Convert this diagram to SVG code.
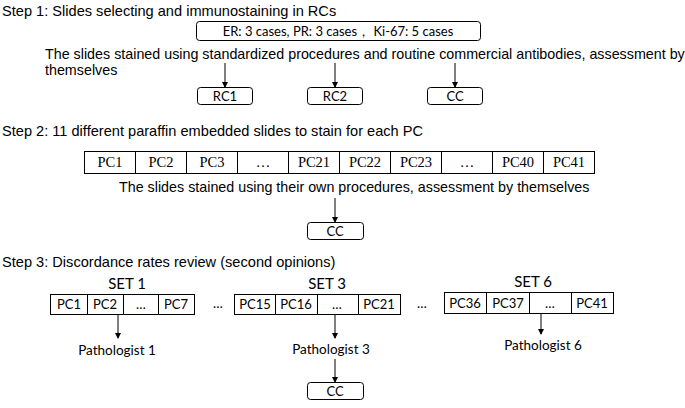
<svg xmlns="http://www.w3.org/2000/svg" width="685" height="408" viewBox="0 0 685 408">
<defs>
<marker id="ah" markerWidth="6" markerHeight="6" refX="5" refY="3" orient="auto" markerUnits="userSpaceOnUse">
<path d="M0,0 L6,3 L0,6 z" fill="#000"/>
</marker>
<style>
.step{font-family:"Liberation Sans",Arial,sans-serif;font-size:14.6px;fill:#000}
.body{font-family:"Liberation Sans",Arial,sans-serif;font-size:14.3px;fill:#000}
.cal{font-family:Lato,"Open Sans",sans-serif;font-size:13px;fill:#000}
.tnr{font-family:"Liberation Serif","Times New Roman",serif;font-size:14.5px;fill:#000}
.box{fill:#fff;stroke:#000;stroke-width:1}
.cell{fill:#fff;stroke:#000;stroke-width:1}
.conn{stroke:#000;stroke-width:1;fill:none;marker-end:url(#ah)}
</style>
</defs>
<rect width="685" height="408" fill="#fff"/>

<text class="step" x="2" y="16">Step 1: Slides selecting and immunostaining in RCs</text>
<g id="er">
<rect class="box" x="196.5" y="21.5" width="284" height="19" rx="3"/>
<text class="cal" x="338" y="36" text-anchor="middle">ER: 3 cases, PR: 3 cases，  Ki-67: 5 cases</text>
</g>
<text class="body" x="45" y="59">The slides stained using standardized procedures and routine commercial antibodies, assessment by</text>
<text class="body" x="45" y="75">themselves</text>
<g id="rc1"><rect class="box" x="197.5" y="87.5" width="55" height="17" rx="3"/><text class="cal" x="225" y="101" text-anchor="middle">RC1</text></g>
<g id="rc2"><rect class="box" x="307.5" y="87.5" width="55" height="17" rx="3"/><text class="cal" x="335" y="101" text-anchor="middle">RC2</text></g>
<g id="cc1"><rect class="box" x="427.5" y="87.5" width="55" height="17" rx="3"/><text class="cal" x="455" y="101" text-anchor="middle">CC</text></g>

<text class="step" x="2" y="136">Step 2: 11 different paraffin embedded slides to stain for each PC</text>
<g id="pcrow">
<rect class="cell" x="84.5" y="151.5" width="510" height="22"/>
<path d="M135.5,151.5v22M186.5,151.5v22M237.5,151.5v22M288.5,151.5v22M339.5,151.5v22M390.5,151.5v22M441.5,151.5v22M492.5,151.5v22M543.5,151.5v22" stroke="#000" fill="none"/>
<g class="tnr" text-anchor="middle">
<text x="110" y="167">PC1</text><text x="161" y="167">PC2</text><text x="212" y="167">PC3</text><text x="263" y="167">…</text>
<text x="314" y="167">PC21</text><text x="365" y="167">PC22</text><text x="416" y="167">PC23</text><text x="467" y="167">…</text>
<text x="518" y="167">PC40</text><text x="569" y="167">PC41</text>
</g>
</g>
<text class="body" x="119" y="192">The slides stained using their own procedures, assessment by themselves</text>
<g id="cc2"><rect class="box" x="307.5" y="222.5" width="56" height="17" rx="3"/><text class="cal" x="335" y="236" text-anchor="middle">CC</text></g>

<text class="step" x="2" y="267">Step 3: Discordance rates review (second opinions)</text>
<g id="set1">
<text class="cal" x="127" y="289" text-anchor="middle" style="font-size:15px">SET 1</text>
<rect class="cell" x="50.5" y="294.5" width="144" height="20"/>
<path d="M87.5,294.5v20M123.5,294.5v20M158.5,294.5v20" stroke="#000" fill="none"/>
<g class="cal" text-anchor="middle"><text x="69" y="309">PC1</text><text x="105" y="309">PC2</text><text x="141" y="309">…</text><text x="176" y="309">PC7</text></g>
</g>
<text class="cal" x="218" y="308" text-anchor="middle">…</text>
<g id="set3">
<text class="cal" x="327" y="289" text-anchor="middle" style="font-size:15px">SET 3</text>
<rect class="cell" x="234.5" y="294.5" width="166" height="20"/>
<path d="M275.5,294.5v20M317.5,294.5v20M358.5,294.5v20" stroke="#000" fill="none"/>
<g class="cal" text-anchor="middle"><text x="255" y="309">PC15</text><text x="296" y="309">PC16</text><text x="337" y="309">…</text><text x="379" y="309">PC21</text></g>
</g>
<text class="cal" x="422" y="308" text-anchor="middle">…</text>
<g id="set6">
<text class="cal" x="533" y="287" text-anchor="middle" style="font-size:15px">SET 6</text>
<rect class="cell" x="444.5" y="292.5" width="169" height="21"/>
<path d="M486.5,292.5v21M529.5,292.5v21M571.5,292.5v21" stroke="#000" fill="none"/>
<g class="cal" text-anchor="middle"><text x="465" y="308">PC36</text><text x="508" y="308">PC37</text><text x="550" y="308">…</text><text x="592" y="308">PC41</text></g>
</g>
<g id="path1"><text class="cal" x="117" y="355" text-anchor="middle" style="font-size:13.5px">Pathologist 1</text></g>
<g id="path3"><text class="cal" x="331" y="354" text-anchor="middle" style="font-size:13.5px">Pathologist 3</text></g>
<g id="path6"><text class="cal" x="543" y="350" text-anchor="middle" style="font-size:13.5px">Pathologist 6</text></g>
<g id="cc3"><rect class="box" x="307.5" y="382.5" width="56" height="17" rx="3"/><text class="cal" x="335" y="396" text-anchor="middle">CC</text></g>

<g id="connectors">
<line class="conn" x1="225" y1="63" x2="225" y2="87"/>
<line class="conn" x1="335" y1="63" x2="335" y2="87"/>
<line class="conn" x1="455" y1="63" x2="455" y2="87"/>
<line class="conn" x1="335" y1="198" x2="335" y2="222"/>
<line class="conn" x1="118" y1="315" x2="118" y2="338"/>
<line class="conn" x1="335" y1="315" x2="335" y2="338"/>
<line class="conn" x1="541" y1="314" x2="541" y2="334"/>
<line class="conn" x1="335" y1="359" x2="335" y2="382"/>
</g>
</svg>
